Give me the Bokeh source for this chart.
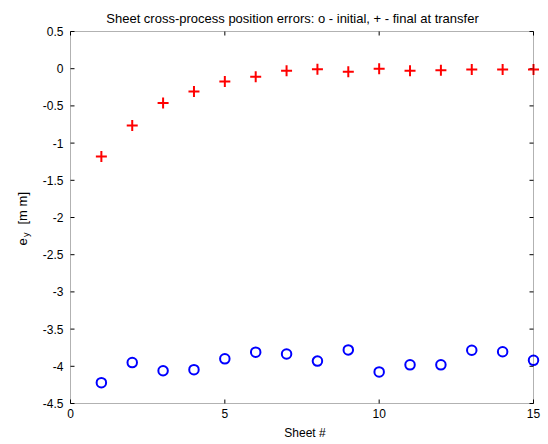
from math import pi
from bokeh.plotting import figure
from bokeh.models import ColumnDataSource, LinearAxis, FixedTicker, Label, Range1d, BoxAnnotation
from bokeh.embed import file_html
from bokeh.resources import INLINE

# ---- data ----
sheets = list(range(1, 16))
initial_err = [-4.22, -3.95, -4.06, -4.045, -3.90, -3.81, -3.835, -3.93,
               -3.78, -4.075, -3.98, -3.98, -3.785, -3.805, -3.92]
final_err = [-1.18, -0.765, -0.46, -0.307, -0.173, -0.107, -0.027, -0.009,
             -0.04, 0.0, -0.027, -0.02, -0.01, -0.01, -0.01]
x_ticks = [0, 5, 10, 15]
x_tick_labels = ["0", "5", "10", "15"]
y_ticks = [0.5, 0, -0.5, -1, -1.5, -2, -2.5, -3, -3.5, -4, -4.5]
y_tick_labels = ["0.5", "0", "-0.5", "-1", "-1.5", "-2", "-2.5", "-3", "-3.5", "-4", "-4.5"]
x_lim = (0, 15)
y_lim = (-4.5, 0.5)
title_text = "Sheet cross-process position errors: o - initial, + - final at transfer"
x_label = "Sheet #"

FONT = "Liberation Sans"

# geometry (pixels): axes box 70..533 horizontally, 31..403 vertically;
# a small pad so that markers on the box edge are not cut
BOX_L, BOX_R, BOX_T, BOX_B = 70, 533, 31, 403
PAD_L, PAD_R, PAD_T, PAD_B = 3, 9, 3, 3
W, H = 548, 444
xs = (x_lim[1] - x_lim[0]) / (BOX_R - BOX_L)
ys = (y_lim[1] - y_lim[0]) / (BOX_B - BOX_T)


def dx(px):
    return x_lim[0] + (px - BOX_L) * xs


def dy(py):
    return y_lim[1] - (py - BOX_T) * ys


src = ColumnDataSource(dict(x=sheets, init=initial_err, fin=final_err))

p = figure(width=W, height=H, output_backend="svg", toolbar_location=None,
           x_range=Range1d(x_lim[0] - PAD_L * xs, x_lim[1] + PAD_R * xs),
           y_range=Range1d(y_lim[0] - PAD_B * ys, y_lim[1] + PAD_T * ys),
           min_border_left=BOX_L - PAD_L, min_border_right=W - BOX_R - PAD_R,
           min_border_top=BOX_T - PAD_T, min_border_bottom=H - BOX_B - PAD_B,
           x_axis_location=None, y_axis_location=None)
p.background_fill_color = "white"
p.border_fill_color = "white"
p.outline_line_color = None
p.xgrid.visible = False
p.ygrid.visible = False


def style_axis(ax, ticks, labels, standoff):
    ax.ticker = FixedTicker(ticks=ticks)
    ax.major_label_overrides = {t: l for t, l in zip(ticks, labels)}
    ax.major_tick_line_color = None
    ax.major_tick_in = 0
    ax.major_tick_out = 0
    ax.minor_tick_line_color = None
    ax.minor_tick_in = 0
    ax.minor_tick_out = 0
    ax.axis_line_color = None
    ax.major_label_text_font = FONT
    ax.major_label_text_font_size = "12px"
    ax.major_label_text_color = "black"
    ax.major_label_standoff = standoff


xb = LinearAxis()
style_axis(xb, x_ticks, x_tick_labels, 2)
xb.axis_label = x_label
xb.axis_label_text_font = FONT
xb.axis_label_text_font_size = "12px"
xb.axis_label_text_font_style = "normal"
xb.axis_label_text_color = "black"
xb.axis_label_standoff = 5
p.add_layout(xb, "below")

yl = LinearAxis()
style_axis(yl, y_ticks, y_tick_labels, 4)
p.add_layout(yl, "left")

# axes box
p.add_layout(BoxAnnotation(left=x_lim[0], right=x_lim[1], bottom=y_lim[0], top=y_lim[1],
                           fill_color=None, fill_alpha=0, line_color="black",
                           line_width=1))

# inward ticks on all four sides
tk = dict(length=4, length_units="screen", line_color="black", line_width=1)
p.ray(x=x_lim[0], y=y_ticks, angle=0, **tk)
p.ray(x=x_lim[1], y=y_ticks, angle=pi, **tk)
p.ray(x=x_ticks, y=y_lim[0], angle=pi / 2, **tk)
p.ray(x=x_ticks, y=y_lim[1], angle=-pi / 2, **tk)

p.scatter("x", "fin", source=src, marker="cross", size=11,
          line_color="#ff0000", line_width=2)
p.scatter("x", "init", source=src, marker="circle", size=9.5,
          line_color="#0000ff", fill_color=None, line_width=2)

# title
p.add_layout(Label(x=dx(292), y=dy(18), text=title_text, text_align="center",
                   text_baseline="alphabetic", text_font=FONT,
                   text_font_size="13px", text_color="black"), "above")

# y axis label: e_y [m m]
lab = dict(angle=pi / 2, text_align="left", text_baseline="alphabetic",
           text_font=FONT, text_color="black")
p.add_layout(Label(x=dx(22), y=dy(245), text="e", text_font_size="13px", **lab), "left")
p.add_layout(Label(x=dx(25), y=dy(236.5), text="y", text_font_size="9px", **lab), "left")
p.add_layout(Label(x=dx(22), y=dy(224), text="[m m]", text_font_size="13px", **lab), "left")

open("out.html", "w").write(file_html(p, INLINE))
